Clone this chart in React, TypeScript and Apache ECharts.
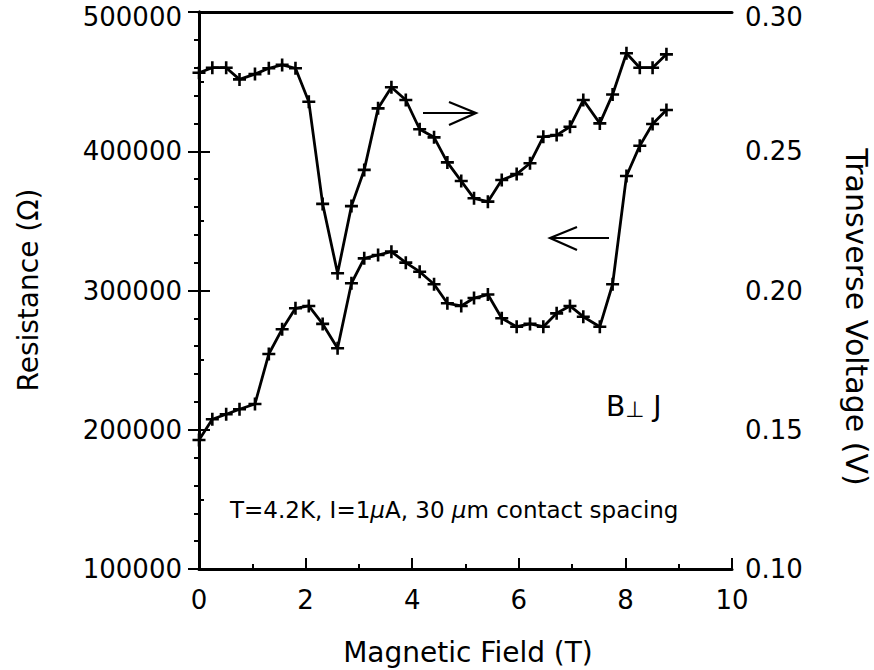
import React, { useEffect, useRef } from "react";
import * as echarts from "echarts";

// Magnetic field sweep (T)
const fieldT: number[] = [
  0, 0.25, 0.51, 0.76, 1.05, 1.31, 1.56, 1.81, 2.06, 2.32, 2.6, 2.86, 3.1, 3.36, 3.61, 3.88, 4.14, 4.41,
  4.66, 4.92, 5.16, 5.42, 5.68, 5.96, 6.21, 6.46, 6.71, 6.96, 7.21, 7.52, 7.76, 8.02, 8.27, 8.51, 8.77,
];

// Transverse voltage (V), right axis
const transverseV: number[] = [
  0.2782, 0.28, 0.28, 0.2758, 0.2777, 0.2798, 0.281, 0.2798, 0.2678, 0.2311, 0.2062, 0.2303, 0.2433,
  0.2654, 0.273, 0.2684, 0.2579, 0.255, 0.246, 0.2393, 0.2331, 0.2319, 0.2397, 0.2418, 0.2457, 0.2552,
  0.2558, 0.2588, 0.2684, 0.26, 0.2704, 0.2852, 0.28, 0.28, 0.2848,
];

// Resistance (Ohm), left axis
const resistanceOhm: number[] = [
  192600, 207500, 211100, 214700, 218500, 254400, 272200, 287200, 288900, 276000, 258500, 305200, 323100,
  325500, 327900, 320000, 313500, 304500, 290800, 288900, 294600, 297100, 280100, 274000, 276000, 274000,
  283600, 288900, 281200, 274000, 304500, 382200, 404000, 419600, 429600,
];

const FONT = "'DejaVu Sans', Verdana, sans-serif";
const CROSS = "path://M4.8,0H7.2V4.8H12V7.2H7.2V12H4.8V7.2H0V4.8H4.8Z";

export default function App() {
  const ref = useRef<HTMLDivElement>(null);

  useEffect(() => {
    if (!ref.current) return;
    const chart = echarts.init(ref.current, undefined, { renderer: "svg" });

    const axisLine = { show: true, lineStyle: { color: "#000", width: 3 } };
    const tickStyle = { color: "#000", width: 2 };
    const labelStyle = { color: "#000", fontSize: 26, lineHeight: 22, fontFamily: FONT };
    // the topmost label is nudged down so it stays inside the canvas
    const labelRich = {
      top: { color: "#000", fontSize: 26, lineHeight: 22, fontFamily: FONT, padding: [9, 0, 0, 0] },
    };

    const lineSeries = (name: string, yAxisIndex: number, values: number[]) => ({
      name,
      type: "line",
      yAxisIndex,
      data: fieldT.map((x, i) => [x, values[i]]),
      symbol: CROSS,
      symbolSize: 13,
      symbolKeepAspect: true,
      showSymbol: true,
      lineStyle: { color: "#000", width: 2.8 },
      itemStyle: { color: "#000" },
      z: 5,
    });

    const title = (text: string, x: number, y: number, rotation: number, size: number) => ({
      type: "text",
      x,
      y,
      rotation,
      style: {
        text,
        font: `${size}px ${FONT}`,
        lineHeight: size,
        fill: "#000",
        align: "center",
        verticalAlign: "middle",
      },
    });

    const stroke = (points: number[][]) => ({
      type: "polyline",
      shape: { points },
      style: { stroke: "#000", lineWidth: 2.2, fill: "none" },
    });

    chart.setOption({
      animation: false,
      backgroundColor: "#fff",
      grid: {
        left: 199,
        right: 142,
        top: 12,
        bottom: 101,
        show: false,
        containLabel: false,
        outerBoundsMode: "none",
      },
      xAxis: [
        {
          type: "value",
          min: 0,
          max: 10,
          interval: 2,
          position: "bottom",
          axisLine,
          axisTick: { show: true, inside: true, length: 11, lineStyle: tickStyle },
          minorTick: { show: true, splitNumber: 2, length: 5, lineStyle: tickStyle },
          splitLine: { show: false },
          axisLabel: { ...labelStyle, margin: 20, showMinLabel: true, showMaxLabel: true },
        },
        {
          type: "value",
          min: 0,
          max: 10,
          position: "top",
          axisLine,
          axisTick: { show: false },
          splitLine: { show: false },
          axisLabel: { show: false },
        },
      ],
      yAxis: [
        {
          type: "value",
          min: 100000,
          max: 500000,
          interval: 100000,
          position: "left",
          axisLine,
          axisTick: { show: true, inside: true, length: 11, lineStyle: tickStyle },
          minorTick: { show: true, splitNumber: 2, length: 5, lineStyle: tickStyle },
          splitLine: { show: false },
          axisLabel: {
            ...labelStyle,
            margin: 17,
            showMinLabel: true,
            showMaxLabel: true,
            rich: labelRich,
            formatter: (v: number) => {
              const s = String(Math.round(v));
              return v >= 500000 ? `{top|${s}}` : s;
            },
          },
        },
        {
          type: "value",
          min: 0.1,
          max: 0.3,
          interval: 0.05,
          position: "right",
          axisLine,
          axisTick: { show: true, inside: true, length: 11, lineStyle: tickStyle },
          minorTick: { show: true, splitNumber: 5, length: 5, lineStyle: tickStyle },
          splitLine: { show: false },
          axisLabel: {
            ...labelStyle,
            margin: 13,
            showMinLabel: true,
            showMaxLabel: true,
            rich: labelRich,
            formatter: (v: number) => {
              const s = v.toFixed(2);
              return v > 0.299 ? `{top|${s}}` : s;
            },
          },
        },
      ],
      series: [
        lineSeries("Transverse Voltage", 1, transverseV),
        lineSeries("Resistance", 0, resistanceOhm),
      ],
      graphic: [
        title("Magnetic Field (T)", 468, 652, 0, 28),
        title("Resistance (Ω)", 28, 290, Math.PI / 2, 28),
        title("Transverse Voltage (V)", 856, 317, -Math.PI / 2, 30),
        // arrow pointing to the right-hand axis
        stroke([[423, 113], [476, 113]]),
        stroke([[449, 102], [476, 113], [449, 125]]),
        // arrow pointing to the left-hand axis
        stroke([[550, 238], [609, 238]]),
        stroke([[577, 227], [550, 238], [577, 250]]),
        {
          type: "text",
          x: 606,
          y: 420,
          style: {
            text: "{n|B}{p|⊥}{n| J}",
            fill: "#000",
            align: "left",
            verticalAlign: "bottom",
            rich: {
              n: { font: `28px ${FONT}`, fill: "#000" },
              p: { font: `22px ${FONT}`, fill: "#000", verticalAlign: "bottom" },
            },
          },
        },
        {
          type: "text",
          x: 230,
          y: 510,
          style: {
            text: "{n|T=4.2K, I=1}{i|μ}{n|A, 30 }{i|μ}{n|m contact spacing}",
            fill: "#000",
            align: "left",
            verticalAlign: "middle",
            rich: {
              n: { font: `23px ${FONT}`, fill: "#000" },
              i: { font: `italic 23px ${FONT}`, fill: "#000" },
            },
          },
        },
      ],
    });

    return () => chart.dispose();
  }, []);

  return (
    <div
      ref={ref}
      style={{ position: "fixed", left: 0, top: 0, width: 874, height: 670, background: "#fff" }}
    />
  );
}
